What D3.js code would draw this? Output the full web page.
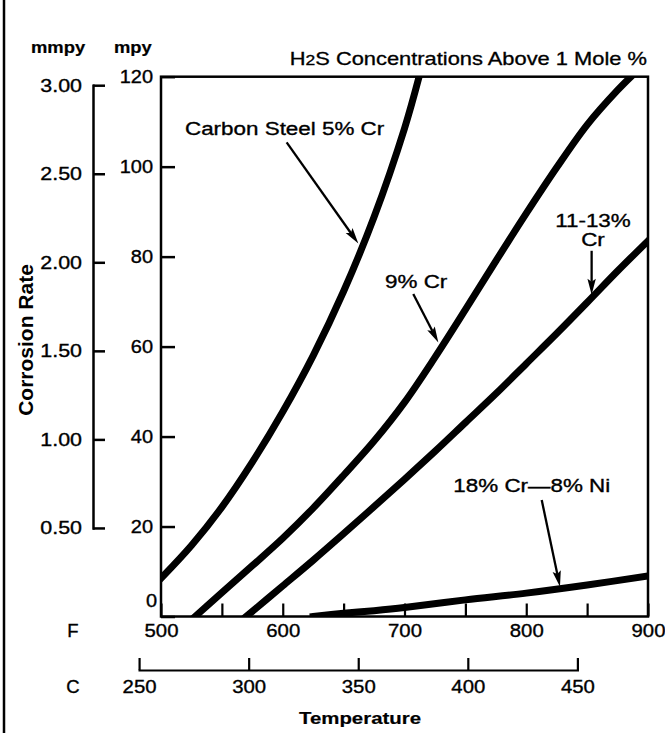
<!DOCTYPE html>
<html>
<head>
<meta charset="utf-8">
<script src="https://cdn.jsdelivr.net/npm/d3@7"></script>
<style>
  html, body { margin: 0; padding: 0; background: #fff; }
  svg { display: block; font-family: "Liberation Sans", Arial, Helvetica, sans-serif; }
</style>
</head>
<body>
<svg id="chart" width="665" height="733"></svg>
<script>
// Corrosion rate (mpy) against temperature (°F) for each alloy
const carbonSteelF   = [500, 525, 550, 575, 600, 625, 650, 675, 700, 712];
const carbonSteelMpy = [8.5, 15.8, 24.3, 34.3, 45.5, 58.0, 72.3, 88.8, 108.5, 120];

const cr9F   = [528, 550, 575, 600, 625, 650, 675, 700, 725, 750, 775, 800, 825, 850, 875, 886];
const cr9Mpy = [0, 5.3, 11.3, 17.4, 24.1, 31.4, 39.0, 47.6, 57.6, 68.2, 79.0, 89.6, 99.8, 109.3, 117.0, 120];

const cr11to13F   = [570, 600, 625, 650, 675, 700, 725, 750, 775, 800, 825, 850, 875, 900];
const cr11to13Mpy = [0, 6.8, 12.5, 18.4, 24.4, 30.5, 36.7, 43.1, 49.5, 56.2, 62.9, 69.8, 76.8, 83.5];

const cr18ni8F   = [625, 650, 675, 700, 750, 800, 850, 900];
const cr18ni8Mpy = [0, 0.7, 1.3, 2.0, 3.7, 5.2, 7.0, 9.0];

// Axis ticks and labels
const mpyTicks = [0, 20, 40, 60, 80, 100, 120];
const mmpyTicks = [0.5, 1.0, 1.5, 2.0, 2.5, 3.0];
const fahrenheitTicks = [500, 550, 600, 650, 700, 750, 800, 850, 900];
const fahrenheitLabels = [500, 600, 700, 800, 900];
const celsiusTicks = [250, 300, 350, 400, 450];
const MPY_PER_MMPY = 39.37;

// Curve labels with their arrows, placed in data units (°F, mpy)
const curveLabels = [
  { lines: ["Carbon Steel 5% Cr"], anchor: "start", at: [519.7, 107.1], from: [603.2, 105.4], to: [662.1, 82.9] },
  { lines: ["9% Cr"], anchor: "start", at: [684, 73.1], from: [707.2, 71.7], to: [727.8, 60.9] },
  { lines: ["11-13%", "Cr"], anchor: "middle", at: [854.8, 86.6], from: [853.7, 81.3], to: [853.7, 71.5] },
  { lines: ["18% Cr\u20148% Ni"], anchor: "start", at: [740.1, 27.7], from: [812.7, 25.9], to: [827.7, 6.6] }
];

const series = [
  { temps: carbonSteelF, rates: carbonSteelMpy },
  { temps: cr9F, rates: cr9Mpy },
  { temps: cr11to13F, rates: cr11to13Mpy },
  { temps: cr18ni8F, rates: cr18ni8Mpy }
];

const svg = d3.select("#chart");
const ink = "#000";
const FONT = '"Liberation Sans", Arial, Helvetica, sans-serif';

const x = d3.scaleLinear().domain([500, 900]).range([161, 648]);
const y = d3.scaleLinear().domain([0, 120]).range([616.5, 76.7]);
const yMm = d3.scaleLinear().domain([0.5, 3.0])
  .range([y(0.5 * MPY_PER_MMPY), y(3.0 * MPY_PER_MMPY)]);
const toF = c => c * 9 / 5 + 32;
const xC = d3.scaleLinear().domain([250, 450]).range([x(toF(250)), x(toF(450))]);

function label(g, str, px, py, o) {
  return g.append("text")
    .attr("transform", `translate(${px},${py}) scale(${o.sx || 1},1)`)
    .attr("text-anchor", o.anchor || "start")
    .style("font-size", o.size + "px")
    .style("font-weight", o.weight || "normal")
    .attr("fill", ink)
    .attr("stroke", ink).attr("stroke-width", o.weight === "bold" ? 0.2 : 0.35)
    .text(str);
}

// outer rule on the left edge of the figure
svg.append("line").attr("x1", 4).attr("x2", 4).attr("y1", 0).attr("y2", 733)
  .attr("stroke", ink).attr("stroke-width", 2.5);

// curves, clipped to the plotting frame
svg.append("clipPath").attr("id", "plot-clip")
  .append("rect")
  .attr("x", x(500)).attr("y", y(120))
  .attr("width", x(900) - x(500)).attr("height", y(0) - y(120));

const line = d3.line()
  .x(d => x(d[0])).y(d => y(d[1]))
  .curve(d3.curveCatmullRom.alpha(0.5));

svg.append("g").attr("clip-path", "url(#plot-clip)")
  .selectAll("path").data(series).join("path")
  .attr("d", s => line(d3.zip(s.temps, s.rates)))
  .attr("fill", "none").attr("stroke", ink)
  .attr("stroke-width", 7).attr("stroke-linecap", "square").attr("stroke-linejoin", "round");

// plotting frame
svg.append("rect")
  .attr("x", x(500)).attr("y", y(120))
  .attr("width", x(900) - x(500)).attr("height", y(0) - y(120))
  .attr("fill", "none").attr("stroke", ink).attr("stroke-width", 2.5);

function styleAxis(g, width, size, sx) {
  g.select(".domain").attr("stroke", ink).attr("stroke-width", width).attr("stroke-linecap", "square");
  g.selectAll(".tick line").attr("stroke", ink).attr("stroke-width", width);
  g.selectAll(".tick text")
    .attr("fill", ink).attr("stroke", ink).attr("stroke-width", 0.35)
    .style("font-size", size + "px")
    .style("font-family", FONT)
    .each(function () {
      const t = d3.select(this);
      const tx = +t.attr("x") || 0;
      t.attr("x", 0).attr("transform", `translate(${tx},0) scale(${sx},1)`);
    });
}

// mpy axis (on the frame)
const mpyAxis = svg.append("g").attr("transform", `translate(${x(500)},0)`)
  .call(d3.axisLeft(y).tickValues(mpyTicks).tickSize(-14).tickSizeOuter(0).tickPadding(8));
styleAxis(mpyAxis, 2.5, 18.5, 1.08);
mpyAxis.select(".domain").remove();
mpyAxis.selectAll(".tick text").filter(d => d === 0).attr("transform", "translate(-4,-16) scale(1.08,1)");

// mmpy axis
const mmpyAxis = svg.append("g").attr("transform", "translate(93,0)")
  .call(d3.axisLeft(yMm).tickValues(mmpyTicks).tickSize(-12).tickSizeOuter(0)
    .tickPadding(11).tickFormat(d3.format(".2f")));
styleAxis(mmpyAxis, 2.5, 18.5, 1.16);

// Fahrenheit axis
const fAxis = svg.append("g").attr("transform", `translate(0,${y(0)})`)
  .call(d3.axisBottom(x).tickValues(fahrenheitTicks).tickSize(-13).tickSizeOuter(0)
    .tickPadding(7).tickFormat(d => fahrenheitLabels.includes(d) ? d : ""));
styleAxis(fAxis, 2.2, 18.5, 1.1);
fAxis.select(".domain").remove();

// Celsius axis
const cAxis = svg.append("g").attr("transform", "translate(0,670)")
  .call(d3.axisBottom(xC).tickValues(celsiusTicks).tickSize(-12).tickSizeOuter(0).tickPadding(10));
styleAxis(cAxis, 2.2, 18.5, 1.1);

// axis titles
const titles = svg.append("g");
label(titles, "F", 73, 637, { size: 18.5, anchor: "middle" });
label(titles, "C", 73, 693, { size: 18.5, anchor: "middle" });
label(titles, "Temperature", 360, 724, { size: 17, weight: "bold", anchor: "middle", sx: 1.2 });
label(titles, "mmpy", 31, 53, { size: 16, weight: "bold", sx: 1.15 });
label(titles, "mpy", 114, 53, { size: 16, weight: "bold", sx: 1.15 });
titles.append("text")
  .attr("transform", "translate(33,340) rotate(-90)")
  .attr("text-anchor", "middle")
  .style("font-size", "21px").style("font-weight", "bold")
  .attr("fill", ink)
  .text("Corrosion Rate");

const heading = titles.append("text")
  .attr("transform", `translate(${x(900) - 1},65) scale(1.25,1)`)
  .attr("text-anchor", "end")
  .style("font-size", "17.5px").attr("fill", ink)
  .attr("stroke", ink).attr("stroke-width", 0.3);
heading.append("tspan").text("H");
heading.append("tspan").style("font-size", "14px").text("2");
heading.append("tspan").text("S Concentrations Above 1 Mole %");

// curve labels and arrows
const notes = svg.append("g");
curveLabels.forEach(n => {
  n.lines.forEach((t, i) => {
    label(notes, t, x(n.at[0]), y(n.at[1]) + i * 19, { size: 19, anchor: n.anchor, sx: 1.18 });
  });
  const p0 = [x(n.from[0]), y(n.from[1])];
  const p1 = [x(n.to[0]), y(n.to[1])];
  const dx = p1[0] - p0[0], dy = p1[1] - p0[1], len = Math.hypot(dx, dy);
  const ux = dx / len, uy = dy / len;
  const headLen = 16, headHalf = 4.2;
  const bx = p1[0] - ux * headLen, by = p1[1] - uy * headLen;
  notes.append("line")
    .attr("x1", p0[0]).attr("y1", p0[1])
    .attr("x2", bx + ux * 3).attr("y2", by + uy * 3)
    .attr("stroke", ink).attr("stroke-width", 2.3);
  notes.append("path")
    .attr("d", `M${p1[0]},${p1[1]}L${bx - uy * headHalf},${by + ux * headHalf}L${bx + ux * 3},${by + uy * 3}L${bx + uy * headHalf},${by - ux * headHalf}Z`)
    .attr("fill", ink);
});
</script>
</body>
</html>
